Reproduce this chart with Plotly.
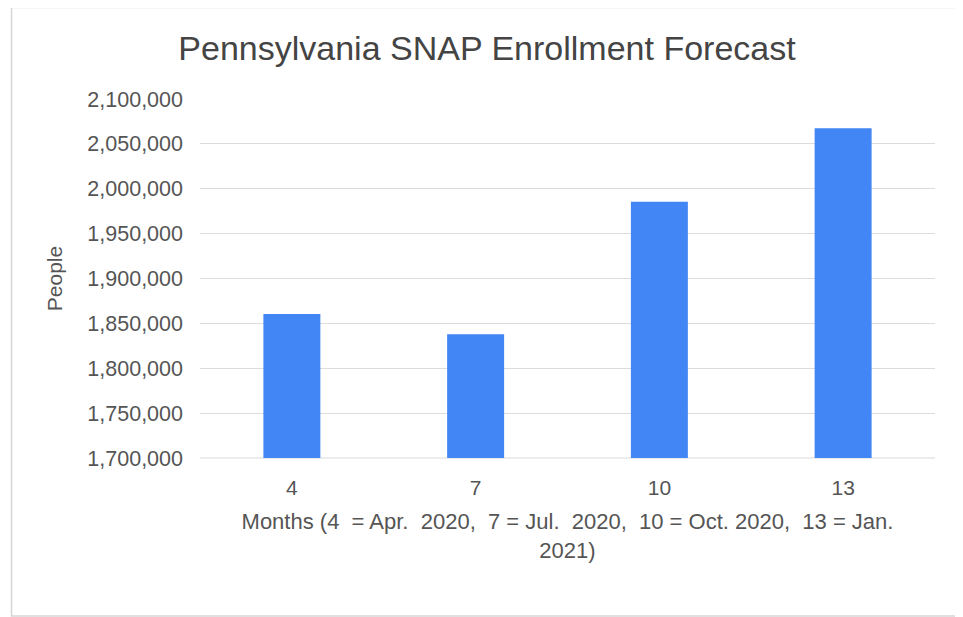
import plotly.graph_objects as go

months = ["4", "7", "10", "13"]
people = [1860400, 1837800, 1985600, 2067400]
y_ticks = [1700000, 1750000, 1800000, 1850000, 1900000, 1950000, 2000000, 2050000, 2100000]

# page body has an 8px margin, so work in page coordinates minus 8
OFF = 8
W, H = 963 - OFF, 617 - OFF
L, R, T, B = 200 - OFF, 28, 99 - OFF, 617 - 458
pw, ph = W - L - R, H - T - B

def px(x):
    return (x - OFF - L) / pw

def py(y):
    return (H - B - (y - OFF)) / ph

font_family = "Liberation Sans, Arial, sans-serif"
text_col = "#555555"
sp = "&nbsp;"

fig = go.Figure(go.Bar(
    x=months, y=people, marker=dict(color="#4285F4", line=dict(width=0)),
    width=0.31,
))

xtitle = ("Months (4" + sp + " = Apr." + sp + " 2020," + sp + " 7 = Jul." + sp + " 2020," + sp +
          " 10 = Oct. 2020," + sp + " 13 = Jan.<br>2021)")

fig.update_layout(
    width=W, height=H, autosize=False,
    margin=dict(l=L, r=R, t=T, b=B),
    paper_bgcolor="white", plot_bgcolor="white",
    font=dict(family=font_family, color=text_col, size=21),
    title=dict(text="Pennsylvania SNAP Enrollment Forecast", x=px(487), xanchor="center",
               xref="paper",
               y=1 - (48 - OFF) / H, yanchor="middle",
               font=dict(size=34, color="#444444", family=font_family)),
    xaxis=dict(type="category", showgrid=False, showline=False, ticks="",
               tickfont=dict(size=21, color=text_col), ticklabelstandoff=15,
               title=dict(text=xtitle, font=dict(size=22, color=text_col), standoff=15)),
    yaxis=dict(range=[1700000, 2100000], tickvals=y_ticks, tickformat=",d",
               gridcolor="#dcdcdc", gridwidth=1, zeroline=False, showline=False,
               ticks="", ticklabelstandoff=16,
               tickfont=dict(size=21.5, color=text_col),
               title=dict(text="People", font=dict(size=21, color=text_col), standoff=18)),
    showlegend=False,
    bargap=0.69,
)

fig.add_shape(type="line", xref="paper", yref="paper", x0=0, x1=1, y0=0, y1=0,
              line=dict(color="#d9d9d9", width=1), layer="below")
fig.add_shape(type="rect", xref="paper", yref="paper",
              x0=px(11.5), x1=px(961.5), y0=py(616), y1=py(7.5),
              line=dict(color="#d6d6d6", width=1.5), layer="below")

fig.write_html("out.html")
